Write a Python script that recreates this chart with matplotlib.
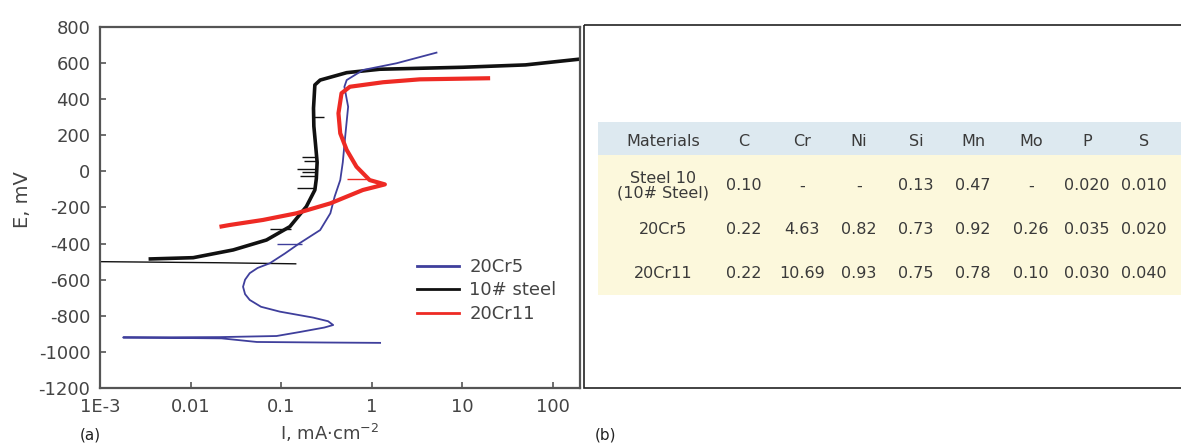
import matplotlib
matplotlib.use("Agg")
import matplotlib.pyplot as plt
from matplotlib.patches import Rectangle

plt.rcParams["axes.unicode_minus"] = False

# ---------------- data ----------------
# 10# steel
black_cath_I = [0.145, 0.02, 0.001]
black_cath_E = [-512, -506, -500]
black_I = [0.0036, 0.0107, 0.0296, 0.069, 0.125, 0.19, 0.236, 0.245, 0.25, 0.24,
           0.23, 0.228, 0.236, 0.27, 0.53, 1.23, 10.2, 50, 190]
black_E = [-485, -478, -435, -380, -306, -195, -103, -40, 50, 150,
           250, 350, 479, 506, 547, 566, 577, 590, 621]
black_spike_E = [80, 55, 15, -5, -25, -90, 300, -320]
black_spike_I = [0.17, 0.18, 0.15, 0.17, 0.16, 0.15, 0.30, 0.075]
black_spike_base = [0.24, 0.245, 0.25, 0.25, 0.25, 0.23, 0.23, 0.13]

# 20Cr5
blue_I = [1.24, 0.3, 0.054, 0.022, 0.0018, 0.021, 0.089, 0.16, 0.3, 0.376,
          0.33, 0.226, 0.097, 0.06, 0.045, 0.04, 0.038, 0.04, 0.045, 0.055,
          0.075, 0.11, 0.16, 0.27, 0.35, 0.39,
          0.45, 0.48, 0.51, 0.55, 0.5, 0.53, 0.805, 1.88, 5.2]
blue_E = [-950, -948, -945, -925, -920, -918, -912, -890, -865, -851,
          -830, -810, -777, -750, -712, -680, -639, -600, -564, -535,
          -509, -455, -398, -325, -232, -140,
          -48, 50, 192, 358, 469, 506, 562, 599, 658]
blue_spike_E = [-400]
blue_spike_I = [0.09]
blue_spike_base = [0.17]

# 20Cr11
red_I = [0.022, 0.027, 0.063, 0.148, 0.35, 0.8, 1.4, 0.95, 0.68, 0.53,
         0.45, 0.43, 0.465, 0.575, 1.34, 3.4, 19.3]
red_E = [-305, -297, -269, -232, -177, -103, -72, -48, 26, 119,
         211, 322, 433, 469, 494, 510, 516]
red_spike_E = [-40]
red_spike_I = [0.53]
red_spike_base = [0.88]

series_labels = ["20Cr5", "10# steel", "20Cr11"]
x_ticks = [1e-3, 0.01, 0.1, 1, 10, 100]
x_ticklabels = ["1E-3", "0.01", "0.1", "1", "10", "100"]
y_ticks = list(range(-1200, 801, 200))

# table
table_header = ["Materials", "C", "Cr", "Ni", "Si", "Mn", "Mo", "P", "S"]
table_materials = ["Steel 10\n(10# Steel)", "20Cr5", "20Cr11"]
table_values = [
    ["0.10", "-", "-", "0.13", "0.47", "-", "0.020", "0.010"],
    ["0.22", "4.63", "0.82", "0.73", "0.92", "0.26", "0.035", "0.020"],
    ["0.22", "10.69", "0.93", "0.75", "0.78", "0.10", "0.030", "0.040"],
]

# ---------------- figure ----------------
W, H = 1181, 445
fig = plt.figure(figsize=(W / 100, H / 100), dpi=100)
fig.patch.set_facecolor("white")

def fx(px):
    return px / W

def fy(py):
    return 1 - py / H

ax = fig.add_axes([fx(100), fy(388), fx(580) - fx(100), fy(27) - fy(388)])
ax.set_xscale("log")
ax.set_xlim(1e-3, 200)
ax.set_ylim(-1200, 800)

c_blue = "#3f3f9c"
c_black = "#111111"
c_red = "#ee2a24"

ax.plot(blue_I, blue_E, color=c_blue, lw=1.3, label=series_labels[0], zorder=3)
ax.plot(black_cath_I, black_cath_E, color=c_black, lw=1.0, zorder=2)
ax.plot(black_I, black_E, color=c_black, lw=2.6, label=series_labels[1], zorder=2)
ax.plot(red_I, red_E, color=c_red, lw=3.0, label=series_labels[2], zorder=4)
ax.hlines(black_spike_E, black_spike_I, black_spike_base, color=c_black, lw=1.0, zorder=2)
ax.hlines(blue_spike_E, blue_spike_I, blue_spike_base, color=c_blue, lw=1.0, zorder=3)
ax.hlines(red_spike_E, red_spike_I, red_spike_base, color=c_red, lw=1.0, zorder=4)

ax.set_xticks(x_ticks)
ax.set_xticklabels(x_ticklabels)
ax.minorticks_off()
ax.set_yticks(y_ticks)
ax.tick_params(axis="both", direction="in", length=4, width=1.2, colors="#555555",
               labelcolor="#444444", labelsize=13)
ax.tick_params(axis="x", pad=7)
ax.tick_params(axis="y", pad=7)
for s in ax.spines.values():
    s.set_color("#555555")
    s.set_linewidth(1.6)

fig.text(fx(22), fy(200), "E, mV", rotation=90, ha="center", va="center",
         fontsize=14, color="#444444")
fig.text(fx(330), fy(433), r"I, mA$\cdot$cm$^{-2}$", ha="center", va="center",
         fontsize=13, color="#444444")
fig.text(fx(90), fy(435), "(a)", ha="center", va="center", fontsize=11, color="#222222")
fig.text(fx(605), fy(435), "(b)", ha="center", va="center", fontsize=11, color="#222222")

leg = ax.legend(loc="upper left", bbox_to_anchor=((417 - 100) / 480, (388 - 258) / 361),
                frameon=False, fontsize=13, handlelength=2.3, handletextpad=0.6,
                labelspacing=0.3, borderpad=0, borderaxespad=0)
for t in leg.get_texts():
    t.set_color("#444444")
for ln in leg.get_lines():
    ln.set_linewidth(2.0)

# ---------------- right panel (b) ----------------
tab = fig.add_axes([0, 0, 1, 1], zorder=-1)
tab.set_xlim(0, W)
tab.set_ylim(H, 0)
tab.axis("off")

tab.add_patch(Rectangle((584, 25), 620, 363, fill=False, edgecolor="#222222", lw=1.2))
tab.add_patch(Rectangle((598, 122), 600, 33, facecolor="#dde9f0", edgecolor="none"))
tab.add_patch(Rectangle((598, 155), 600, 140, facecolor="#fcf8dc", edgecolor="none"))

col_x = [663, 744, 802, 859, 916, 973, 1031, 1087, 1144]
row_y = [186, 230, 273]
for cx, h in zip(col_x, table_header):
    tab.text(cx, 142, h, ha="center", va="center", fontsize=11.5, color="#3a3a3a")
for ry, mat, vals in zip(row_y, table_materials, table_values):
    tab.text(col_x[0], ry, mat, ha="center", va="center", fontsize=11.5,
             color="#3a3a3a", linespacing=1.0)
    for cx, v in zip(col_x[1:], vals):
        tab.text(cx, ry, v, ha="center", va="center", fontsize=11.5, color="#3a3a3a")

fig.savefig("out.png", dpi=100, facecolor="white")
